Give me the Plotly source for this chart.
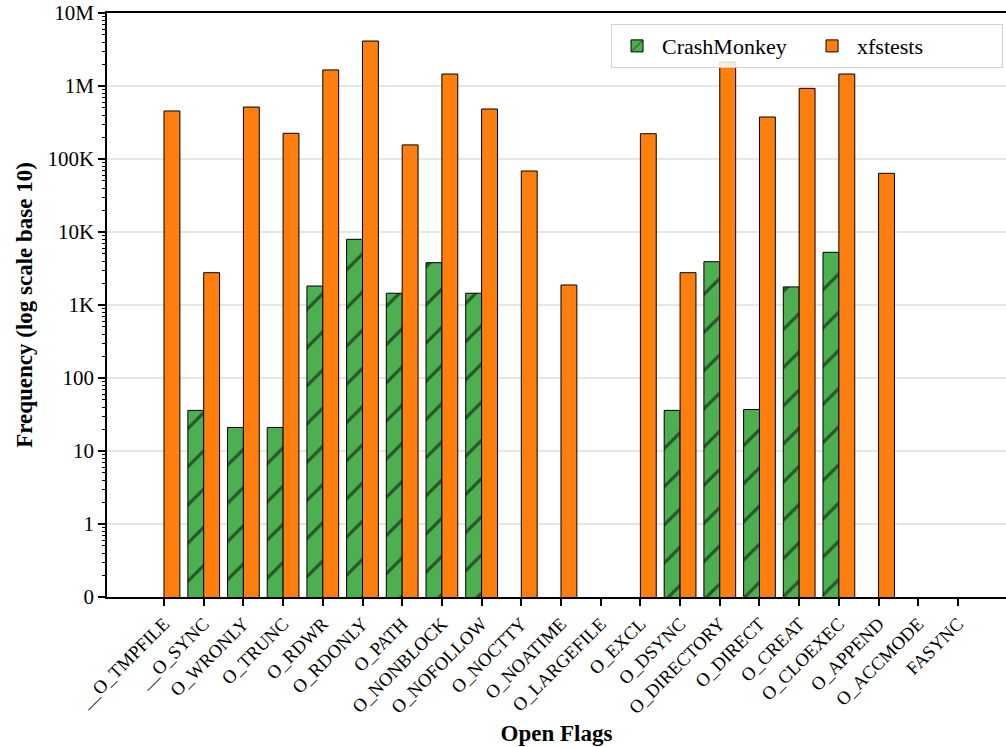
import plotly.graph_objects as go

# Open flags observed in each workload
flags = [
    "__O_TMPFILE", "__O_SYNC", "O_WRONLY", "O_TRUNC", "O_RDWR", "O_RDONLY",
    "O_PATH", "O_NONBLOCK", "O_NOFOLLOW", "O_NOCTTY", "O_NOATIME", "O_LARGEFILE",
    "O_EXCL", "O_DSYNC", "O_DIRECTORY", "O_DIRECT", "O_CREAT", "O_CLOEXEC",
    "O_APPEND", "O_ACCMODE", "FASYNC",
]

# Call counts (None = flag never used)
crashmonkey = [
    None, 36, 21, 21, 1820, 7940,
    1450, 3800, 1450, None, None, None,
    None, 36, 3920, 37, 1770, 5270,
    None, None, None,
]
xfstests = [
    455000, 2770, 515000, 225000, 1660000, 4130000,
    156000, 1460000, 484000, 68500, 1880, None,
    222000, 2770, 2130000, 376000, 929000, 1460000,
    63700, None, None,
]

y_tickvals = [0.1, 1, 10, 100, 1e3, 1e4, 1e5, 1e6, 1e7]
y_ticktext = ["0", "1", "10", "100", "1K", "10K", "100K", "1M", "10M"]
y_range = [-1, 7]

# log-style minor ticks (2..9 within each decade)
minor_vals = [m * d for d in y_tickvals[:-1] for m in range(2, 10)]

serif = "Liberation Serif"
x_pos = list(range(len(flags)))

fig = go.Figure()
fig.add_trace(go.Bar(
    x=x_pos, y=crashmonkey, name="CrashMonkey",
    marker=dict(
        color="#4caf50",
        line=dict(color="black", width=1),
        pattern=dict(shape="/", fgcolor="black", bgcolor="#4caf50",
                     size=27, solidity=0.12),
    ),
))
fig.add_trace(go.Bar(
    x=x_pos, y=xfstests, name="xfstests",
    marker=dict(color="#ff7f0e", line=dict(color="black", width=1)),
))
# Transparent helper trace that carries the minor-tick axis
fig.add_trace(go.Scatter(
    x=[x_pos[0]], y=[1], xaxis="x", yaxis="y2", mode="markers",
    marker=dict(size=1, opacity=0), showlegend=False, hoverinfo="skip",
))

fig.update_layout(
    width=1006, height=747,
    margin=dict(l=107, r=0, t=13, b=150),
    paper_bgcolor="white", plot_bgcolor="white",
    barmode="group", bargap=0.2, bargroupgap=0,
    font=dict(family=serif, size=21, color="black"),
    showlegend=True,
    legend=dict(
        orientation="h", x=0.9967, y=0.981, xanchor="right", yanchor="top",
        bgcolor="rgba(255,255,255,0.85)", bordercolor="#d0d0d0", borderwidth=1,
        font=dict(family=serif, size=22),
        entrywidth=140, itemwidth=40,
    ),
    xaxis=dict(
        range=[-1.436, 21.21],
        tickmode="array", tickvals=x_pos, ticktext=flags,
        tickangle=-45, tickfont=dict(size=18.5),
        ticks="outside", ticklen=7, tickwidth=1.5, tickcolor="black",
        showline=True, linecolor="black", linewidth=1.5, mirror=True,
        showgrid=False, zeroline=False,
        title=dict(text="<b>Open Flags</b>", font=dict(size=23), standoff=8),
    ),
    yaxis=dict(
        type="log", range=y_range,
        tickmode="array", tickvals=y_tickvals, ticktext=y_ticktext,
        tickfont=dict(size=21),
        ticks="outside", ticklen=7, tickwidth=1.5, tickcolor="black",
        showline=True, linecolor="black", linewidth=1.5, mirror=False,
        showgrid=True, gridcolor="#e6e6e6", gridwidth=1.5, zeroline=False,
        title=dict(text="<b>Frequency (log scale base 10)</b>", font=dict(size=23), standoff=8),
    ),
    yaxis2=dict(
        type="log", range=y_range, overlaying="y", anchor="x", side="left",
        tickmode="array", tickvals=minor_vals,
        ticks="outside", ticklen=4, tickwidth=1, tickcolor="black",
        showticklabels=False, showgrid=False, zeroline=False, showline=False,
    ),
)

fig.write_html("out.html")
